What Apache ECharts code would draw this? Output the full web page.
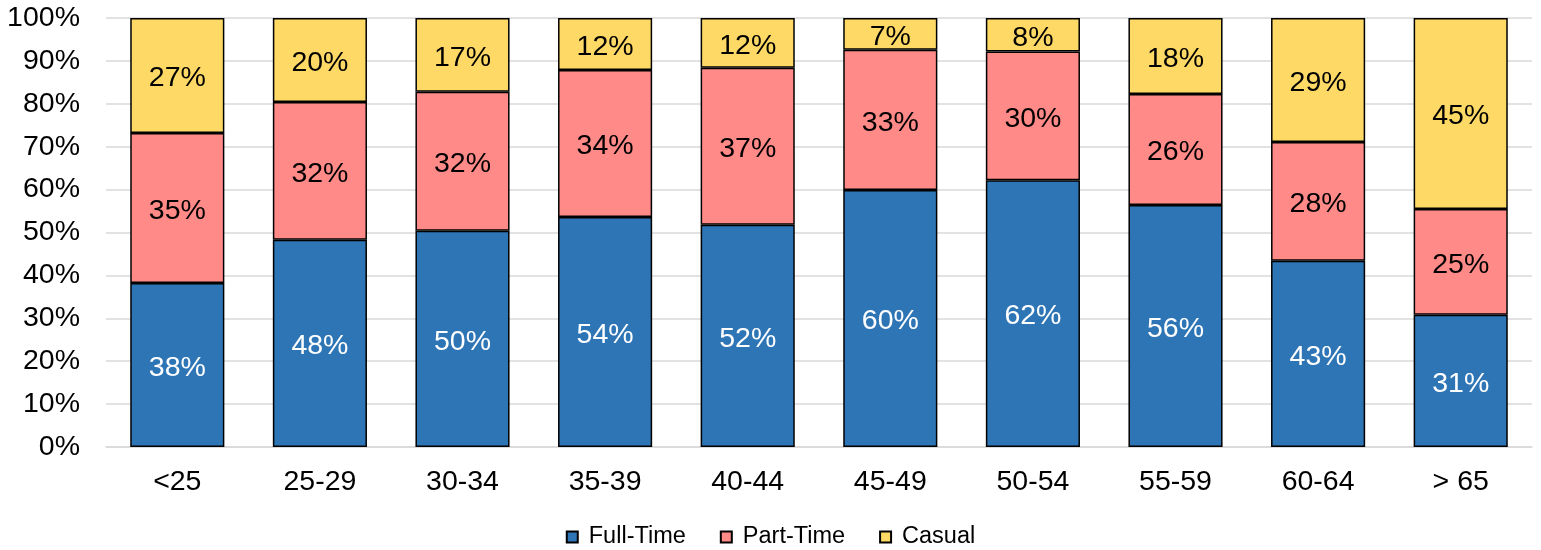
<!DOCTYPE html>
<html>
<head>
<meta charset="utf-8">
<script src="https://cdn.jsdelivr.net/npm/echarts@6/dist/echarts.min.js"></script>
<style>html,body{margin:0;padding:0;background:#fff}#c{width:1541px;height:550px}</style>
</head>
<body>
<div id="c"></div>
<script>
const categories = ['<25','25-29','30-34','35-39','40-44','45-49','50-54','55-59','60-64','> 65'];
const fullTime = [38.2, 48.3, 50.4, 53.6, 51.8, 59.9, 62.2, 56.4, 43.4, 30.8];
const partTime = [35.0, 32.1, 32.4, 34.3, 36.6, 32.7, 30.0, 25.9, 27.7, 24.7];
const casual   = [26.8, 19.6, 17.2, 12.1, 11.6, 7.4, 7.8, 17.7, 28.9, 44.5];
const yTicks = [0,10,20,30,40,50,60,70,80,90,100];

const font = 'Liberation Sans, Arial, sans-serif';
const chart = echarts.init(document.getElementById('c'));
function mk(name, data, color, labelColor){
  return {
    name, type:'bar', stack:'a', data, barWidth:'66%',
    itemStyle:{color, borderColor:'#000', borderWidth:1.5},
    label:{show:true, position:'inside', offset:[0,3], color:labelColor, fontSize:28.5, fontFamily:font,
      formatter: p => Math.round(p.value) + '%'}
  };
}
chart.setOption({
  animation:false,
  grid:{left:106, right:9, top:18, bottom:103, containLabel:false},
  legend:{bottom:-4, left:'center', itemWidth:11, itemHeight:11, itemGap:34, icon:'rect',
    textStyle:{fontSize:23.5, fontFamily:font, color:'#000', padding:[0,0,0,6]},
    data:[{name:'Full-Time'},{name:'Part-Time'},{name:'Casual'}]},
  xAxis:{type:'category', data:categories,
    axisLine:{show:true, lineStyle:{color:'#d9d9d9', width:1.5}}, axisTick:{show:false},
    axisLabel:{fontSize:28.5, fontFamily:font, color:'#000', margin:21}},
  yAxis:{type:'value', min:0, max:100, interval:10,
    axisLine:{show:false}, axisTick:{show:false},
    splitLine:{lineStyle:{color:'#d9d9d9', width:1.5}},
    axisLabel:{fontSize:28.5, fontFamily:font, color:'#000', margin:26, formatter: v => v + '%'}},
  series:[
    mk('Full-Time', fullTime, '#2E75B6', '#fff'),
    mk('Part-Time', partTime, '#FF8A87', '#000'),
    mk('Casual', casual, '#FFD966', '#000')
  ]
});
</script>
</body>
</html>
